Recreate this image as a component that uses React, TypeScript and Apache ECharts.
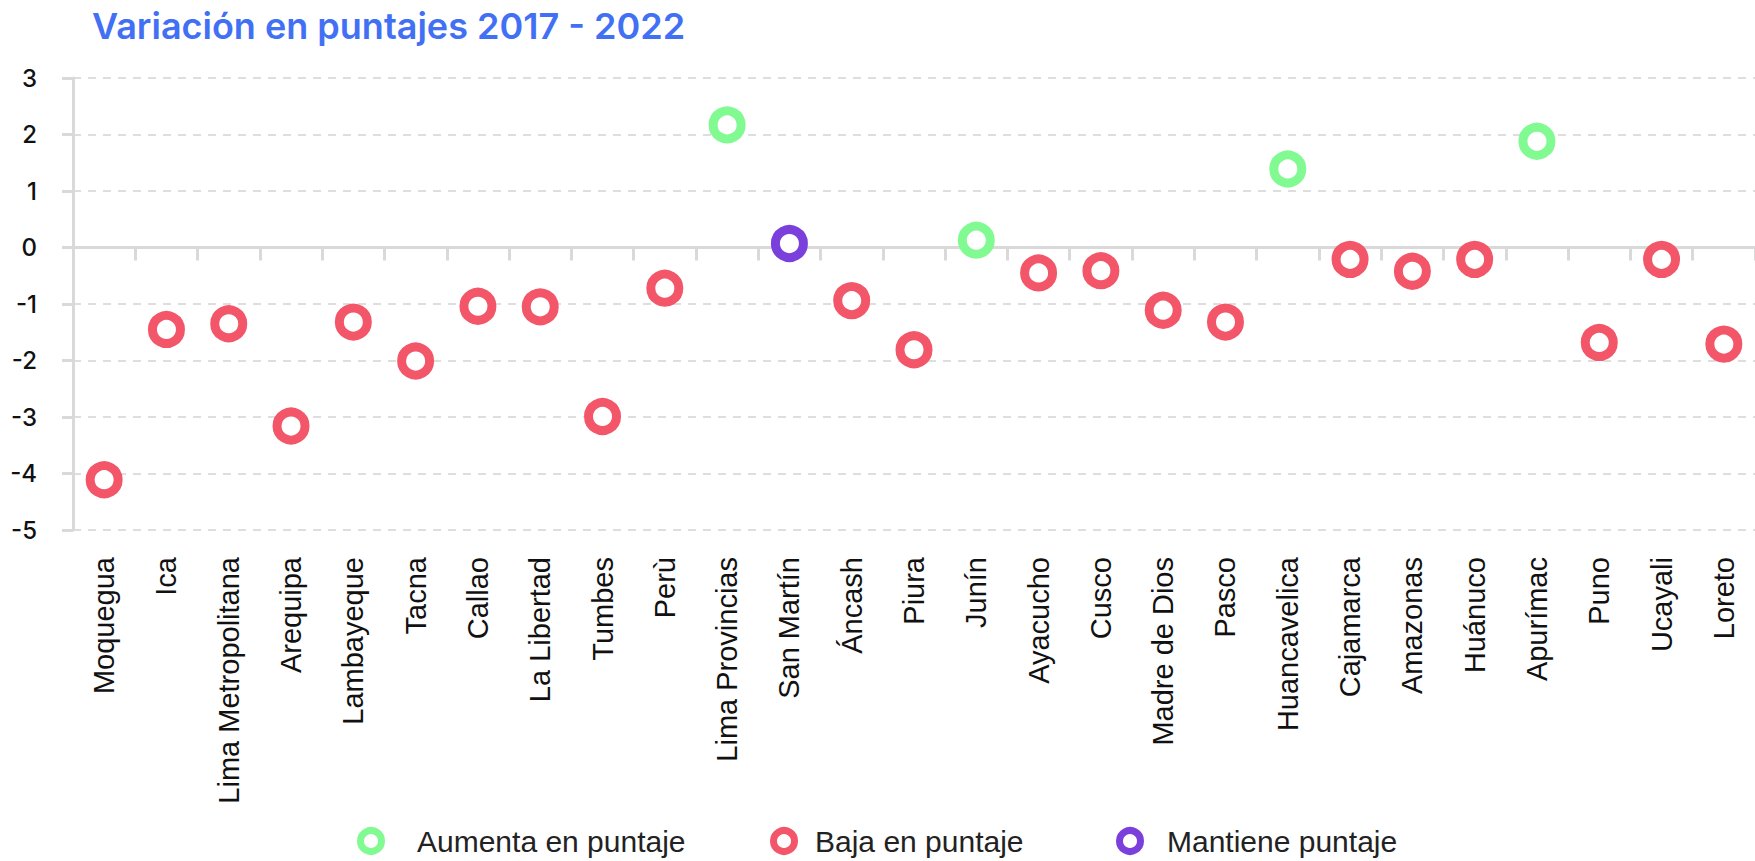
import React, { useEffect, useRef } from "react";
import * as echarts from "echarts";

const title = "Variación en puntajes 2017 - 2022";

const regions = [
  "Moquegua", "Ica", "Lima Metropolitana", "Arequipa", "Lambayeque", "Tacna",
  "Callao", "La Libertad", "Tumbes", "Perù", "Lima Provincias", "San Martín",
  "Áncash", "Piura", "Junín", "Ayacucho", "Cusco", "Madre de Dios", "Pasco",
  "Huancavelica", "Cajamarca", "Amazonas", "Huánuco", "Apurímac", "Puno",
  "Ucayali", "Loreto",
];

const variation = [
  -4.11, -1.45, -1.35, -3.16, -1.32, -2.01,
  -1.04, -1.05, -2.99, -0.72, 2.17, 0.07,
  -0.94, -1.81, 0.13, -0.45, -0.41, -1.11, -1.32,
  1.39, -0.21, -0.42, -0.21, 1.88, -1.68,
  -0.21, -1.71,
];

// A = aumenta, B = baja, M = mantiene
const status = [
  "B", "B", "B", "B", "B", "B",
  "B", "B", "B", "B", "A", "M",
  "B", "B", "A", "B", "B", "B", "B",
  "A", "B", "B", "B", "A", "B",
  "B", "B",
];

const groupKeys = ["A", "B", "M"];
const groupNames = ["Aumenta en puntaje", "Baja en puntaje", "Mantiene puntaje"];
const groupColors = ["#82FA92", "#F25668", "#7B3FDB"];

const yTicks = [-5, -4, -3, -2, -1, 0, 1, 2, 3];

export default function App() {
  const ref = useRef<HTMLDivElement>(null);

  useEffect(() => {
    if (!ref.current) return;
    const chart = echarts.init(ref.current, null, { renderer: "svg" });

    const axisGray = "#d9d9d9";

    const series = groupKeys.map((k, gi) => ({
      name: groupNames[gi],
      type: "scatter",
      xAxisIndex: 0,
      yAxisIndex: 0,
      symbol: "circle",
      symbolSize: 28,
      z: 5,
      itemStyle: {
        color: "#ffffff",
        borderColor: groupColors[gi],
        borderWidth: 9,
        opacity: 1,
      },
      emphasis: { disabled: true },
      data: variation.map((v, i) => (status[i] === k ? v : "-")),
    }));

    const legendLeft = [357, 770, 1116];
    const legendItemWidth = [82, 52, 64];

    chart.setOption({
      animation: false,
      title: {
        text: title,
        left: 87,
        top: 3,
        textStyle: {
          color: "#4270F5",
          fontSize: 36,
          fontWeight: 600,
          fontFamily: "Inter",
        },
      },
      grid: {
        left: 73,
        right: -11,
        top: 78,
        bottom: 331,
        containLabel: false,
      },
      legend: groupNames.map((n, i) => ({
        data: [n],
        left: legendLeft[i],
        top: 826,
        padding: 0,
        itemWidth: legendItemWidth[i],
        itemHeight: 21,
        symbolKeepAspect: true,
        selectedMode: false,
        itemStyle: { borderWidth: 7 },
        textStyle: {
          fontSize: 30,
          color: "#222222",
          fontFamily: "Liberation Sans",
        },
      })),
      xAxis: [
        {
          type: "category",
          data: regions,
          position: "bottom",
          boundaryGap: true,
          axisLine: { show: false, onZero: false },
          axisTick: { show: false },
          splitLine: { show: false },
          axisLabel: {
            interval: 0,
            rotate: 90,
            margin: 27,
            fontSize: 29,
            color: "#111111",
            fontFamily: "Liberation Sans",
          },
        },
        {
          type: "category",
          data: regions,
          position: "bottom",
          boundaryGap: true,
          axisLine: {
            show: true,
            onZero: true,
            onZeroAxisIndex: 0,
            lineStyle: { color: axisGray, width: 3 },
          },
          axisTick: {
            show: true,
            interval: 0,
            length: 13,
            lineStyle: { color: axisGray, width: 3 },
          },
          axisLabel: { show: false, interval: 0 },
          splitLine: { show: false },
        },
      ],
      yAxis: {
        type: "value",
        min: yTicks[0],
        max: yTicks[yTicks.length - 1],
        interval: 1,
        axisLine: { show: true, lineStyle: { color: axisGray, width: 3 } },
        axisTick: { show: true, length: 11, lineStyle: { color: axisGray, width: 3 } },
        axisLabel: {
          margin: 36,
          fontSize: 24,
          fontWeight: 500,
          color: "#111111",
          fontFamily: "Inter",
        },
        splitLine: {
          show: true,
          lineStyle: { color: "#dedede", width: 2, type: [8, 7] },
        },
      },
      series,
    });

    return () => chart.dispose();
  }, []);

  return (
    <div
      ref={ref}
      style={{ position: "absolute", left: 0, top: 0, width: 1755, height: 861, background: "#ffffff" }}
    />
  );
}
